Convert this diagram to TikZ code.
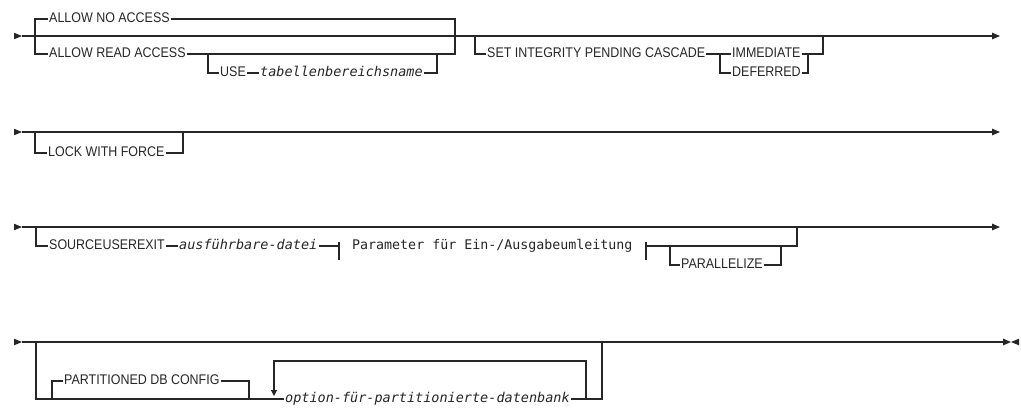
\documentclass[tikz,border=0pt]{standalone}
\usepackage{fontspec}
\newfontfamily\railkw[FakeStretch=0.89]{Liberation Sans}
\newfontfamily\railmono{DejaVu Sans Mono}
\usetikzlibrary{calc,arrows.meta}

\tikzset{
  rail/.style={line width=1.2pt},
  kw/.style={inner xsep=1pt, inner ysep=0pt, text height=7pt, text depth=0pt,
    anchor=west, font=\railkw\fontsize{14}{16}\selectfont},
  var/.style={kw, font=\railmono\itshape\fontsize{13.5}{16}\selectfont},
  frag/.style={kw, font=\railmono\fontsize{13.3}{16}\selectfont},
  endtip/.style={-{Triangle[length=8pt,width=6.6pt]}},
  looptip/.style={-{Triangle[length=6pt,width=6pt]}}
}

\begin{document}
\begin{tikzpicture}[x=1pt,y=-1pt,black!85]
  \useasboundingbox (0,0) rectangle (1021,408);

  %% Start markers of the four rows
  \foreach \r/\yy in {1/36,2/132,3/227,4/342}
  {
    \coordinate (S\r) at (22,\yy);
    \fill (S\r) -- ++(-8,-3.3) -- ++(0,6.6) -- cycle;
  }

  %% Row 1: access mode and set integrity
  \draw[rail,endtip] (S1) -- (1000,36);
  \coordinate (A1) at (35,36);
  \coordinate (A2) at (455,36);
  \node[kw] (NOACC) at (48,19) {ALLOW NO ACCESS};
  \node[kw] (READACC) at (48,54) {ALLOW READ ACCESS};
  \draw[rail] (NOACC.west) -| (A1 |- READACC.west) -- (READACC.west);
  \draw[rail] (NOACC.east) -| (A2 |- READACC.east) -- (READACC.east);

  \coordinate (U1) at (208,54);
  \coordinate (U2) at (437,54);
  \node[kw] (USE) at (219,73) {USE};
  \node[var] (TBNAME) at (259,73) {tabellenbereichsname};
  \draw[rail] (U1) |- (USE.west);
  \draw[rail] (USE.east) -- (TBNAME.west);
  \draw[rail] (TBNAME.east) -| (U2);

  \coordinate (B1) at (475,36);
  \coordinate (B2) at (823,36);
  \coordinate (C1) at (720,54);
  \coordinate (C2) at (808,54);
  \node[kw] (SETINT) at (486,54) {SET INTEGRITY PENDING CASCADE};
  \node[kw] (IMMED) at (731,54) {IMMEDIATE};
  \node[kw] (DEFER) at (731,73) {DEFERRED};
  \draw[rail] (B1) |- (SETINT.west);
  \draw[rail] (SETINT.east) -- (IMMED.west);
  \draw[rail] (C1) |- (DEFER.west);
  \draw[rail] (IMMED.east) -| (B2);
  \draw[rail] (DEFER.east) -| (C2);

  %% Row 2: lock with force
  \draw[rail,endtip] (S2) -- (1000,132);
  \coordinate (L1) at (35,132);
  \coordinate (L2) at (183,132);
  \node[kw] (LOCK) at (47,153) {LOCK WITH FORCE};
  \draw[rail] (L1) |- (LOCK.west);
  \draw[rail] (LOCK.east) -| (L2);

  %% Row 3: source user exit
  \draw[rail,endtip] (S3) -- (1000,227);
  \coordinate (R1) at (36,227);
  \coordinate (R2) at (797,227);
  \coordinate (P1) at (339,246);
  \coordinate (P2) at (646,246);
  \coordinate (Q1) at (670,246);
  \coordinate (Q2) at (781,246);
  \node[kw] (SRCEXIT) at (48,246) {SOURCEUSEREXIT};
  \node[var] (EXITFILE) at (178,246) {ausführbare-datei};
  \node[frag] (PARAM) at (351,246) {Parameter für Ein-/Ausgabeumleitung};
  \node[kw] (PARALL) at (680,265) {PARALLELIZE};
  \draw[rail] (R1) |- (SRCEXIT.west);
  \draw[rail] (SRCEXIT.east) -- (EXITFILE.west);
  \draw[rail] (EXITFILE.east) -- (P1);
  \draw[rail] ($(P1)+(0,-4.5)$) -- ($(P1)+(0,13.5)$);
  \draw[rail] ($(P2)+(0,-4.5)$) -- ($(P2)+(0,13.5)$);
  \draw[rail] (P2) -| (R2);
  \draw[rail] (Q1) |- (PARALL.west);
  \draw[rail] (PARALL.east) -| (Q2);

  %% Row 4: partitioned db config
  \draw[rail,endtip] (S4) -- (1011,342);
  \fill (1011,342) -- (1019,338.7) -- (1019,345.3) -- cycle;
  \coordinate (D1) at (36,342);
  \coordinate (D2) at (602,342);
  \coordinate (K1) at (52,399);
  \coordinate (K2) at (249,399);
  \coordinate (LP1) at (586,399);
  \coordinate (LP2) at (274,396);
  \node[kw] (PARTDB) at (63,381) {PARTITIONED DB CONFIG};
  \node[var] (PARTOPT) at (284,399) {option-für-partitionierte-datenbank};
  \draw[rail] (D1) |- (PARTOPT.west);
  \draw[rail] (PARTOPT.east) -| (D2);
  \draw[rail] (K1) |- (PARTDB.west);
  \draw[rail] (PARTDB.east) -| (K2);
  \draw[rail,looptip] (LP1) -- ++(0,-38) -| (LP2);

\end{tikzpicture}
\end{document}
